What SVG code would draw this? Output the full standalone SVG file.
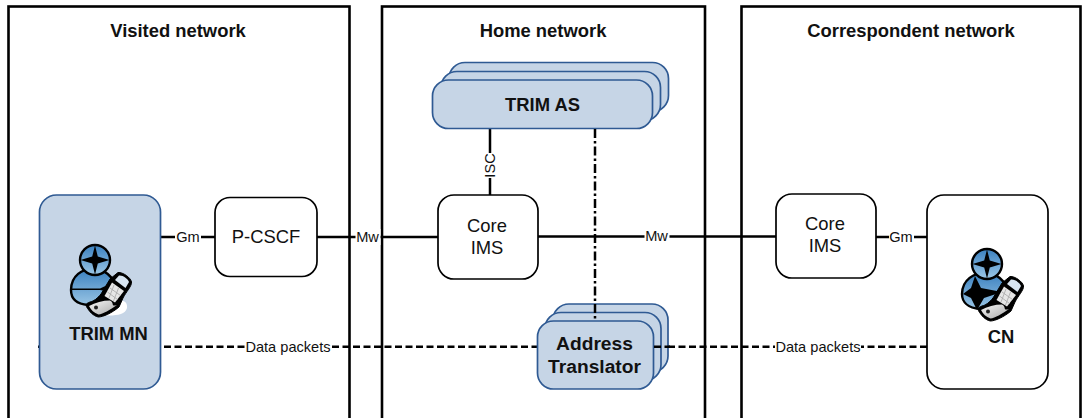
<svg xmlns="http://www.w3.org/2000/svg" xmlns:xlink="http://www.w3.org/1999/xlink" width="1085" height="418" viewBox="0 0 1085 418">
<style>
text{font-family:"Liberation Sans",Arial,sans-serif;fill:#111;text-anchor:middle}
.net{fill:none;stroke:#000;stroke-width:2.6}
.title{font-size:18.4px;font-weight:bold}
.blue{fill:#c6d5e6;stroke:#2f5a93;stroke-width:1.7}
.plain{fill:#fff;stroke:#000;stroke-width:1.7}
.bold{font-size:18.4px;font-weight:bold}
.big{font-size:19.2px;font-weight:bold}
.reg{font-size:18.4px}
.lab{font-size:14.6px}
.line{fill:none;stroke:#000;stroke-width:2.5}
.dash{stroke-dasharray:7 3.500}
.dd{stroke-dasharray:9 3 2.500 3}
.bg{fill:#fff;stroke:none}
.ol{stroke:#000;stroke-width:2.400;stroke-linejoin:round}
</style>
<defs>
<linearGradient id="bluegrad" x1="0" y1="0" x2="0" y2="1"><stop offset="0" stop-color="#3a80bf"/><stop offset="1" stop-color="#9cc7e6"/></linearGradient>
<linearGradient id="phonegrad" x1="0" y1="0" x2="1" y2="1"><stop offset="0" stop-color="#f6f6f6"/><stop offset="1" stop-color="#a8a8a8"/></linearGradient>
<g id="headphone">
<circle cx="0" cy="0" r="15" fill="url(#bluegrad)" class="ol"/>
<path d="M0-14.500 2.800-3.500 14.500 0 2.800 3.500 0 14.500-2.800 3.500-14.500 0-2.800-3.500Z" fill="#000"/>
<path d="M-8.500 46.700C-10 43-6 42.500-2 41C2 39 4 36 6 34L15 19L23 12.500C28 12 36 18 36.500 22C37 26 31 32 28 38L24 47C17 53 8 57 3.300 57C-2 56-6 51-8.500 46.700Z" fill="#000" stroke="#000" stroke-width="1" stroke-linejoin="round"/>
<path d="M-6 46C0 42.500 8 40.500 15 40.500C20 43 15 47 22 45C15 50 8 54 3.500 54.500C-1 53-4 50-6 46Z" fill="url(#phonegrad)"/>
<circle cx="1" cy="47.500" r="2" fill="#222"/>
<path d="M9.500 36 17 22.500 29 31 20 42.500Z" fill="#e6e6e6"/>
<path d="M12.500 32 22.500 39.500M15 28 25.500 35.500M19 25 14 38M23.500 28 18.500 41" stroke="#a6a6a6" stroke-width=".8" fill="none"/>
<path d="M20 20 24 15.500C28 15 33 19 34 22L30.500 28Z" fill="#d8e5f2"/>
</g>
</defs>

<g id="visited-network"><rect class="net" x="8.500" y="6.500" width="341" height="430"/><text class="title" x="178" y="37">Visited network</text></g>
<g id="home-network"><rect class="net" x="382" y="6.500" width="323" height="430"/><text class="title" x="543" y="37">Home network</text></g>
<g id="correspondent-network"><rect class="net" x="741.500" y="6.500" width="339" height="430"/><text class="title" x="911" y="37">Correspondent network</text></g>

<g id="connectors">
<path class="line" d="M160 237H215M317 237H438M490 129V195M537 236.500H776M875 237H928"/>
<path class="line dash" d="M38 346.700H928"/>
</g>

<g id="trim-mn"><rect class="blue" x="39.500" y="195" width="121" height="194" rx="17"/>
<path d="M108 310C116 298 128 298 127 308C125 316 112 316 100 315Z" fill="#fff"/>
<path d="M71 290C71 276 82 268 95 269C108 270 118 282 116 294C114 304 100 308 88 305C76 304 71 298 71 290Z" fill="url(#bluegrad)" class="ol"/>
<path d="M71 288.500H100L116 281L112 292L100 290L72 290Z" fill="#000"/>
<use xlink:href="#headphone" href="#headphone" x="95" y="260"/>
<text class="bold" x="108.500" y="340">TRIM MN</text></g>

<g id="p-cscf"><rect class="plain" x="215" y="197.500" width="102" height="79" rx="15"/><text class="reg" x="266" y="243">P-CSCF</text></g>

<g id="core-ims-home"><rect class="plain" x="438" y="195" width="100" height="84" rx="16"/><text class="reg" x="487" y="232">Core</text><text class="reg" x="487" y="254">IMS</text></g>

<g id="core-ims-correspondent"><rect class="plain" x="776" y="194" width="100" height="84" rx="16"/><text class="reg" x="825" y="230">Core</text><text class="reg" x="825" y="252">IMS</text></g>

<g id="cn"><rect class="plain" x="927" y="195" width="121" height="194" rx="17"/>
<path d="M962 294C962 280 974 272 987 273C1000 274 1010 286 1008 298C1006 308 992 312 980 309C968 308 962 302 962 294Z" fill="url(#bluegrad)" class="ol"/>
<path d="M975 276 981 288 1002 292 984 298 977 310 971 298 963 294 971 288Z" fill="#000"/>
<use xlink:href="#headphone" href="#headphone" x="987" y="264"/>
<text class="bold" x="1001" y="343">CN</text></g>

<g id="trim-as">
<rect class="blue" x="449" y="62.500" width="219.500" height="49" rx="16"/>
<rect class="blue" x="441" y="71.500" width="219.500" height="49" rx="16"/>
<rect class="blue" x="432.500" y="80" width="220" height="48.500" rx="16"/>
<text class="bold" x="542.500" y="110.500">TRIM AS</text></g>

<g id="address-translator">
<rect class="blue" x="553" y="304" width="115" height="68" rx="16"/>
<rect class="blue" x="545" y="312.500" width="116" height="68" rx="16"/>
<rect class="blue" x="537.500" y="321" width="116" height="68" rx="16"/>
<text class="big" x="594.500" y="350">Address</text><text class="big" x="594.500" y="372.500">Translator</text></g>

<g id="connector-overlays">
<path class="line dd" d="M595 129V321"/>
<path class="line dash" d="M654 346.700H670"/>
<rect class="bg" x="175" y="229" width="26" height="16"/><text class="lab" x="188" y="242">Gm</text>
<rect class="bg" x="355.500" y="229" width="25" height="16"/><text class="lab" x="367.500" y="242">Mw</text>
<rect class="bg" x="644.500" y="229" width="25" height="16"/><text class="lab" x="656.500" y="241">Mw</text>
<rect class="bg" x="889" y="229" width="25" height="16"/><text class="lab" x="901" y="242">Gm</text>
<rect class="bg" x="245" y="339" width="86" height="16"/><text class="lab" x="288" y="352">Data packets</text>
<rect class="bg" x="775" y="339" width="86" height="16"/><text class="lab" x="818" y="352">Data packets</text>
<rect class="bg" x="482" y="153" width="16" height="25"/><text class="lab" transform="translate(495 165.500) rotate(-90)">ISC</text>
</g>
</svg>
